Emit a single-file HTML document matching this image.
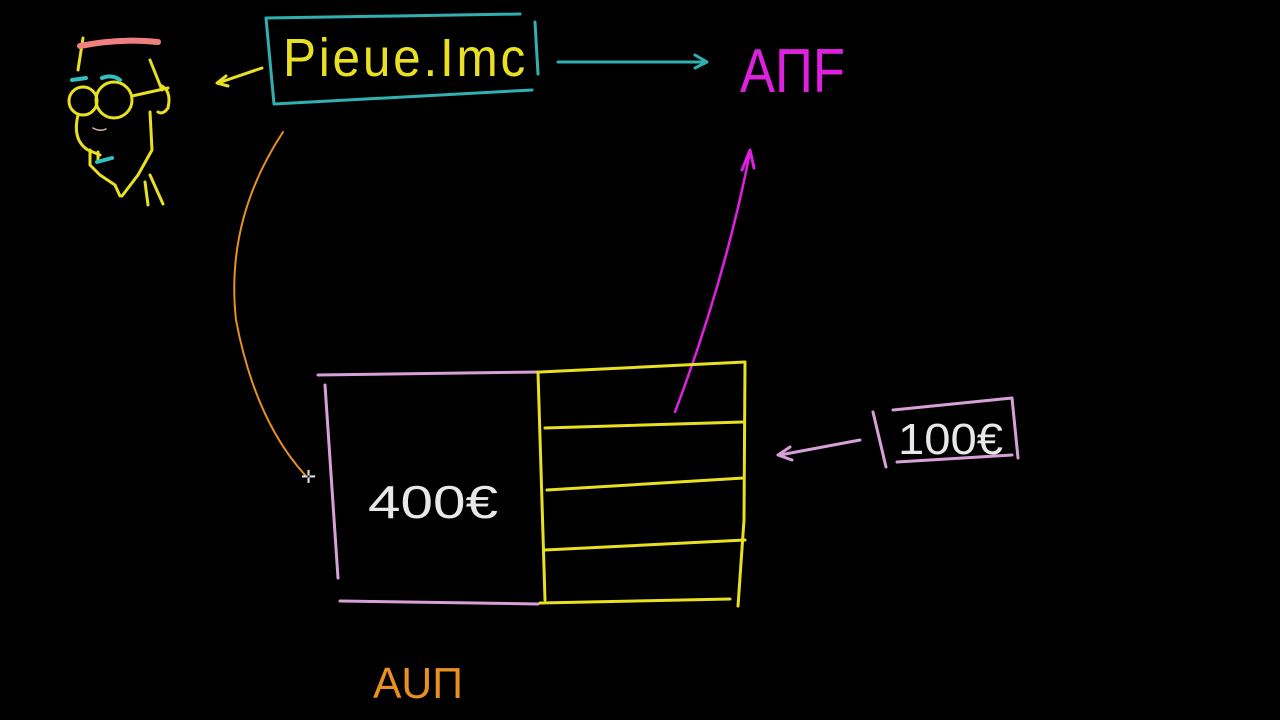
<!DOCTYPE html>
<html><head><meta charset="utf-8"><style>
html,body{margin:0;padding:0;background:#000;width:1280px;height:720px;overflow:hidden}
svg{display:block}
text{font-family:"Liberation Sans",sans-serif}
</style></head><body>
<svg width="1280" height="720" viewBox="0 0 1280 720" fill="none" stroke-linecap="round" stroke-linejoin="round">
<!-- face -->
<g stroke="#e8e020" stroke-width="3">
<path d="M83 38 L78 70"/>
<path d="M150 60 Q158 80 162 90"/>
<circle cx="83" cy="101" r="14"/>
<circle cx="114" cy="100" r="18"/>
<path d="M132 96 L168 88"/>
<path d="M160 85 Q172 90 168 108 Q163 115 158 112"/>
<path d="M150 112 L152 150 L138 175 L122 196"/>
<path d="M78 115 Q72 140 88 150 L100 155 M90 150 L90 165 L100 175 L115 185 L120 196"/>
<path d="M150 175 L163 204 M145 182 L148 205"/>
<path d="M98 152 L98 160"/>
</g>
<g stroke="#e0b8b0" stroke-width="1.5"><path d="M93 128 Q100 132 106 129"/></g>
<g stroke="#30c0c0" stroke-width="4"><path d="M72 80 L86 78 M102 78 Q112 74 120 80 M97 162 L112 158"/></g>
<path d="M80 46 Q120 38 158 42" stroke="#f08080" stroke-width="6"/>
<!-- arrow to face -->
<path d="M262 68 L218 83" stroke="#e8e020" stroke-width="3"/>
<path d="M226 76 L217 83 L228 86" stroke="#e8e020" stroke-width="3"/>
<!-- Pieue box -->
<g stroke="#30b0b0" stroke-width="3">
<path d="M266 18 L520 14 M266 18 L274 104 L532 90 M535 22 L538 74"/>
<path d="M558 62 L705 62"/><path d="M695 55 L707 62 L695 68"/>
</g>
<text x="283" y="76" font-size="54" fill="#e8e020" letter-spacing="3" textLength="245" lengthAdjust="spacingAndGlyphs">Pieue.Imc</text>
<!-- AMF -->
<text x="740" y="92" font-size="62" fill="#e020e0" textLength="105" lengthAdjust="spacingAndGlyphs">AΠF</text>
<path d="M675 412 Q725 280 750 152" stroke="#e020e0" stroke-width="2.5"/>
<path d="M742 170 L750 150 L754 168" stroke="#e020e0" stroke-width="3"/>
<!-- orange curve -->
<path d="M283 132 Q225 220 236 320 Q255 420 305 475" stroke="#e89020" stroke-width="2"/>
<text x="301" y="483" font-size="18" fill="#ddd">✛</text>
<!-- pink box -->
<g stroke="#d8a0d8" stroke-width="3">
<path d="M318 375 L540 372"/><path d="M325 385 L338 578"/><path d="M340 601 L538 604"/>
</g>
<text x="368" y="518" font-size="46" fill="#e8e8e8" textLength="130" lengthAdjust="spacingAndGlyphs">400€</text>
<!-- yellow grid -->
<g stroke="#e8e020" stroke-width="3">
<path d="M540 372 L745 362 L744 520 L738 606"/>
<path d="M538 372 L545 600"/>
<path d="M545 428 L743 422 M547 490 L744 478 M545 550 L745 540 M540 603 L730 599"/>
</g>
<!-- 100€ -->
<g stroke="#d8a0d8" stroke-width="3">
<path d="M873 412 L886 467 M893 410 L1012 398 L1018 458 M897 462 L1012 455"/>
<path d="M860 440 L780 455"/><path d="M790 447 L778 455 L792 460"/>
</g>
<text x="898" y="454" font-size="44" fill="#e8e8e8" textLength="105" lengthAdjust="spacingAndGlyphs">100€</text>
<text x="373" y="698" font-size="44" fill="#e89020" textLength="90" lengthAdjust="spacingAndGlyphs">AUΠ</text>
</svg>
</body></html>
